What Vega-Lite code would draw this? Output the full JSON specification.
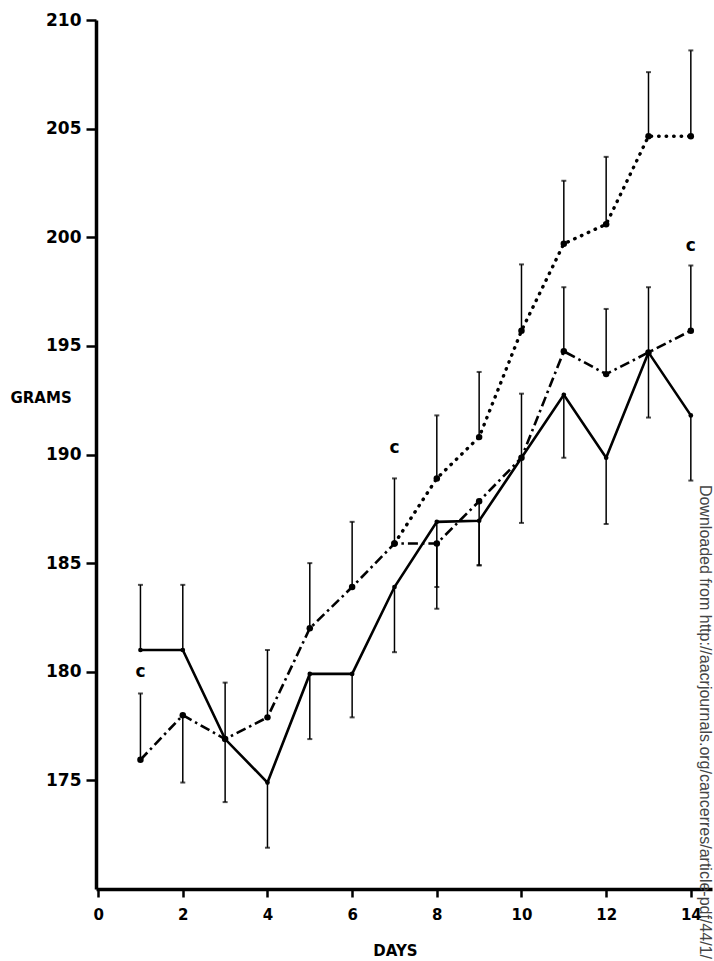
{
  "$schema": "https://vega.github.io/schema/vega-lite/v6.json",
  "width": 616,
  "height": 869,
  "autosize": "none",
  "padding": {"left": 96, "top": 20, "right": 2, "bottom": 72},
  "background": "white",
  "config": {"view": {"stroke": null}, "font": "DejaVu Sans"},
  "datasets": {
    "weights": [
      {"day": 1, "series": "A", "grams": 181, "err": 184},
      {"day": 2, "series": "A", "grams": 181, "err": 184},
      {"day": 3, "series": "A", "grams": 176.9, "err": 179.5},
      {"day": 4, "series": "A", "grams": 174.9, "err": 171.9},
      {"day": 5, "series": "A", "grams": 179.9, "err": 176.9},
      {"day": 6, "series": "A", "grams": 179.9, "err": 177.9},
      {"day": 7, "series": "A", "grams": 183.9, "err": 180.9},
      {"day": 8, "series": "A", "grams": 186.9, "err": 183.9},
      {"day": 9, "series": "A", "grams": 186.95, "err": 184.9},
      {"day": 10, "series": "A", "grams": 189.85, "err": 186.85},
      {"day": 11, "series": "A", "grams": 192.75, "err": 189.85},
      {"day": 12, "series": "A", "grams": 189.85, "err": 186.8},
      {"day": 13, "series": "A", "grams": 194.7, "err": 191.7},
      {"day": 14, "series": "A", "grams": 191.8, "err": 188.8},
      {"day": 1, "series": "B", "grams": 175.95, "err": 179},
      {"day": 2, "series": "B", "grams": 178, "err": 174.9},
      {"day": 3, "series": "B", "grams": 176.9, "err": 174},
      {"day": 4, "series": "B", "grams": 177.9, "err": 181},
      {"day": 5, "series": "B", "grams": 182, "err": 185},
      {"day": 6, "series": "B", "grams": 183.9, "err": 186.9},
      {"day": 7, "series": "B", "grams": 185.9, "err": 188.9},
      {"day": 8, "series": "B", "grams": 185.9, "err": 182.9},
      {"day": 9, "series": "B", "grams": 187.85, "err": 184.9},
      {"day": 10, "series": "B", "grams": 189.85, "err": 192.8},
      {"day": 11, "series": "B", "grams": 194.75, "err": 197.7},
      {"day": 12, "series": "B", "grams": 193.7, "err": 196.7},
      {"day": 13, "series": "B", "grams": 194.7, "err": 197.7},
      {"day": 14, "series": "B", "grams": 195.7, "err": 198.7},
      {"day": 7, "series": "C", "grams": 185.9, "err": null},
      {"day": 8, "series": "C", "grams": 188.9, "err": 191.8},
      {"day": 9, "series": "C", "grams": 190.8, "err": 193.8},
      {"day": 10, "series": "C", "grams": 195.7, "err": 198.75},
      {"day": 11, "series": "C", "grams": 199.7, "err": 202.6},
      {"day": 12, "series": "C", "grams": 200.6, "err": 203.7},
      {"day": 13, "series": "C", "grams": 204.65, "err": 207.6},
      {"day": 14, "series": "C", "grams": 204.65, "err": 208.6}
    ],
    "notes": [
      {"day": 1, "grams": 180, "label": "c"},
      {"day": 7, "grams": 190.3, "label": "c"},
      {"day": 14, "grams": 199.6, "label": "c"}
    ],
    "source": [
      {"day": 14.34, "grams": 188.6, "note": "Downloaded from http://aacrjournals.org/cancerres/article-pdf/44/1/"}
    ]
  },
  "encoding": {
    "x": {
      "field": "day", "type": "quantitative", "title": "DAYS",
      "scale": {"domain": [-0.05, 14.5], "nice": false, "zero": false},
      "axis": {
        "values": [0, 2, 4, 6, 8, 10, 12, 14],
        "grid": false,
        "domainColor": "black", "domainWidth": 3.5,
        "tickColor": "black", "tickWidth": 2.5, "tickSize": 8,
        "labelFont": "DejaVu Sans", "labelFontWeight": "bold", "labelFontSize": 15,
        "labelColor": "black", "labelPadding": 10, "labelFlush": false,
        "title": "DAYS", "titleFont": "DejaVu Sans", "titleFontWeight": "bold", "titleFontSize": 15,
        "titleColor": "black", "titleX": 299, "titleY": 61, "titleBaseline": "middle", "titleAlign": "center"
      }
    },
    "y": {
      "field": "grams", "type": "quantitative", "title": "GRAMS",
      "scale": {"domain": [170, 210], "nice": false, "zero": false},
      "axis": {
        "values": [175, 180, 185, 190, 195, 200, 205, 210],
        "grid": false,
        "domainColor": "black", "domainWidth": 3.5,
        "tickColor": "black", "tickWidth": 2.5, "tickSize": 10,
        "labelFont": "DejaVu Sans", "labelFontWeight": "bold", "labelFontSize": 17,
        "labelColor": "black", "labelPadding": 5, "labelFlush": false,
        "title": "GRAMS", "titleFont": "DejaVu Sans", "titleFontWeight": "bold", "titleFontSize": 15,
        "titleColor": "black", "titleAngle": 0, "titleAlign": "left", "titleBaseline": "middle",
        "titleX": -86, "titleY": 377
      }
    }
  },
  "layer": [
    {
      "data": {"name": "weights"},
      "transform": [{"filter": "datum.err != null"}],
      "mark": {"type": "rule", "color": "black", "strokeWidth": 1.5},
      "encoding": {
        "y2": {"field": "err"}
      }
    },
    {
      "data": {"name": "weights"},
      "transform": [{"filter": "datum.err != null"}],
      "mark": {"type": "tick", "orient": "horizontal", "color": "black", "size": 5, "thickness": 2},
      "encoding": {
        "y": {"field": "err", "type": "quantitative", "title": "GRAMS"}
      }
    },
    {
      "data": {"name": "weights"},
      "transform": [{"filter": "datum.series == 'A'"}],
      "mark": {"type": "line", "color": "black", "strokeWidth": 2.6}
    },
    {
      "data": {"name": "weights"},
      "transform": [{"filter": "datum.series == 'B'"}],
      "mark": {"type": "line", "color": "black", "strokeWidth": 2.6, "strokeDash": [10, 4, 2.5, 4]}
    },
    {
      "data": {"name": "weights"},
      "transform": [{"filter": "datum.series == 'C'"}],
      "mark": {"type": "line", "color": "black", "strokeWidth": 3.4, "strokeCap": "round", "strokeDash": [0.5, 7]}
    },
    {
      "data": {"name": "weights"},
      "transform": [{"filter": "datum.series == 'A'"}],
      "mark": {"type": "point", "filled": true, "color": "black", "opacity": 1, "size": 22}
    },
    {
      "data": {"name": "weights"},
      "transform": [{"filter": "datum.series != 'A'"}],
      "mark": {"type": "point", "filled": true, "color": "black", "opacity": 1, "size": 42}
    },
    {
      "data": {"name": "notes"},
      "mark": {"type": "text", "font": "DejaVu Sans", "fontWeight": "bold", "fontSize": 17, "color": "black", "baseline": "middle", "align": "center"},
      "encoding": {
        "text": {"field": "label"}
      }
    },
    {
      "data": {"name": "source"},
      "mark": {"type": "text", "font": "Liberation Sans", "fontSize": 16, "color": "#444444", "angle": 90, "align": "left", "baseline": "middle"},
      "encoding": {
        "text": {"field": "note"}
      }
    }
  ]
}
